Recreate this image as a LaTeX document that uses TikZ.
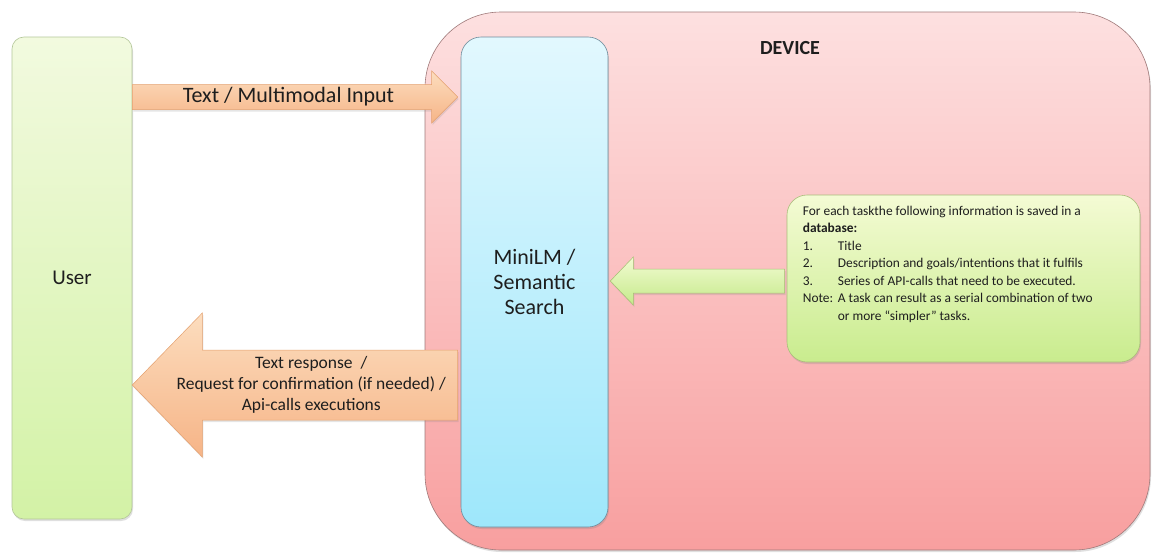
\documentclass[tikz,border=0pt]{standalone}
\usepackage{fontspec}
\setmainfont{Carlito}
\usepackage{tikz}
\usetikzlibrary{positioning, calc, shadows}

\definecolor{userTop}{HTML}{F2FADF}
\definecolor{userBot}{HTML}{D3F2A6}
\definecolor{userEdge}{HTML}{B4C79A}
\definecolor{devTop}{HTML}{FDE0E0}
\definecolor{devBot}{HTML}{F89F9F}
\definecolor{devEdge}{HTML}{A07A7A}
\definecolor{miniTop}{HTML}{E2F8FE}
\definecolor{miniBot}{HTML}{9EE7FB}
\definecolor{miniEdge}{HTML}{6E8C9C}
\definecolor{dbTop}{HTML}{F4FBD4}
\definecolor{dbBot}{HTML}{C9EC8E}
\definecolor{dbEdge}{HTML}{A9BC7A}
\definecolor{arrTop}{HTML}{FCDDBE}
\definecolor{arrBot}{HTML}{F6B487}
\definecolor{arrEdge}{HTML}{E4A06E}
\definecolor{grTop}{HTML}{F3FBD2}
\definecolor{grBot}{HTML}{C4EA8A}
\definecolor{grEdge}{HTML}{A5BF72}
\definecolor{inkDark}{HTML}{1E1E1E}

\tikzset{
  panel/.style={draw=#1, line width=0.6pt, text=inkDark,
    drop shadow={opacity=0.25, shadow xshift=1pt, shadow yshift=-2pt}},
  blockarrow/.style={draw=arrEdge, line width=0.5pt, top color=arrTop, bottom color=arrBot,
    drop shadow={opacity=0.2, shadow xshift=1pt, shadow yshift=-2pt}},
  greenarrow/.style={draw=grEdge, line width=0.5pt, top color=grTop, bottom color=grBot,
    drop shadow={opacity=0.2, shadow xshift=1pt, shadow yshift=-2pt}},
  lbl/.style={text=inkDark, align=center, inner sep=0pt}
}

\begin{document}
\begin{tikzpicture}[x=1pt, y=-1pt]
  \useasboundingbox[fill=white] (0,0) rectangle (1158,554);

  % the device and what lives on it
  \node[panel=devEdge, rounded corners=76pt, top color=devTop, bottom color=devBot,
        minimum width=725pt, minimum height=538pt] (device) at (787.5,281) {};
  \node[font=\fontsize{20}{24}\selectfont\bfseries, text=inkDark] (devlbl) at (790,48) {DEVICE};

  \node[panel=miniEdge, rounded corners=20pt, top color=miniTop, bottom color=miniBot,
        minimum width=147pt, minimum height=490pt, align=center,
        font=\fontsize{22}{25}\selectfont] (mini) at (534.5,282) {MiniLM /\\Semantic\\Search};

  \node[panel=dbEdge, rounded corners=20pt, top color=dbTop, bottom color=dbBot,
        minimum width=353pt, minimum height=167pt] (db) at (963.5,278.5) {};
  \node[anchor=north west, inner sep=0pt, text=inkDark,
        font=\fontsize{13.4}{17.5}\selectfont] (dbnote) at ($(db.north west)+(16,8)$) {%
    \begin{tabular}{@{}p{35pt}@{}l@{}}
      \multicolumn{2}{@{}l@{}}{For each taskthe following information is saved in a}\\
      \multicolumn{2}{@{}l@{}}{\textbf{database:}}\\
      1. & Title\\
      2. & Description and goals/intentions that it fulfils\\
      3. & Series of API-calls that need to be executed.\\
      Note: & A task can result as a serial combination of two\\
            & or more “simpler” tasks.
    \end{tabular}};

  % the user
  \node[panel=userEdge, rounded corners=12pt, top color=userTop, bottom color=userBot,
        minimum width=120pt, minimum height=482pt,
        font=\fontsize{21}{25}\selectfont] (user) at (72,278) {User};

  % user -> device
  \coordinate (inS) at (user.east |- 0,97);
  \coordinate (inT) at ($(mini.west |- 0,97)+(-3,0)$);
  \path[blockarrow] ($(inS)+(0,-12.5)$) -- ($(inT)+(-26,-12.5)$) -- ($(inT)+(-26,-26)$)
    -- (inT) -- ($(inT)+(-26,26)$) -- ($(inT)+(-26,12.5)$) -- ($(inS)+(0,12.5)$) -- cycle;
  \node[lbl, font=\fontsize{22}{25}\selectfont] (inlbl) at ($(inS)!0.48!(inT)$) {Text / Multimodal Input};

  % device -> user
  \coordinate (outT) at (user.east |- 0,385);
  \coordinate (outS) at ($(mini.west |- 0,385)+(-3,0)$);
  \path[blockarrow] ($(outS)+(0,-35)$) -- ($(outT)+(70,-35)$) -- ($(outT)+(70,-72)$)
    -- (outT) -- ($(outT)+(70,72)$) -- ($(outT)+(70,35)$) -- ($(outS)+(0,35)$) -- cycle;
  \node[lbl, font=\fontsize{17.5}{21}\selectfont] (outlbl) at ($(outT)!0.55!(outS)$)
    {Text response~ /\\Request for confirmation (if needed) /\\Api-calls executions};

  % database -> search
  \coordinate (dbT) at ($(mini.east |- 0,281)+(2,0)$);
  \coordinate (dbS) at ($(db.west |- 0,281)+(-2,0)$);
  \path[greenarrow] ($(dbS)+(0,-12)$) -- ($(dbT)+(23,-12)$) -- ($(dbT)+(23,-24)$)
    -- (dbT) -- ($(dbT)+(23,24)$) -- ($(dbT)+(23,12)$) -- ($(dbS)+(0,12)$) -- cycle;
\end{tikzpicture}
\end{document}
